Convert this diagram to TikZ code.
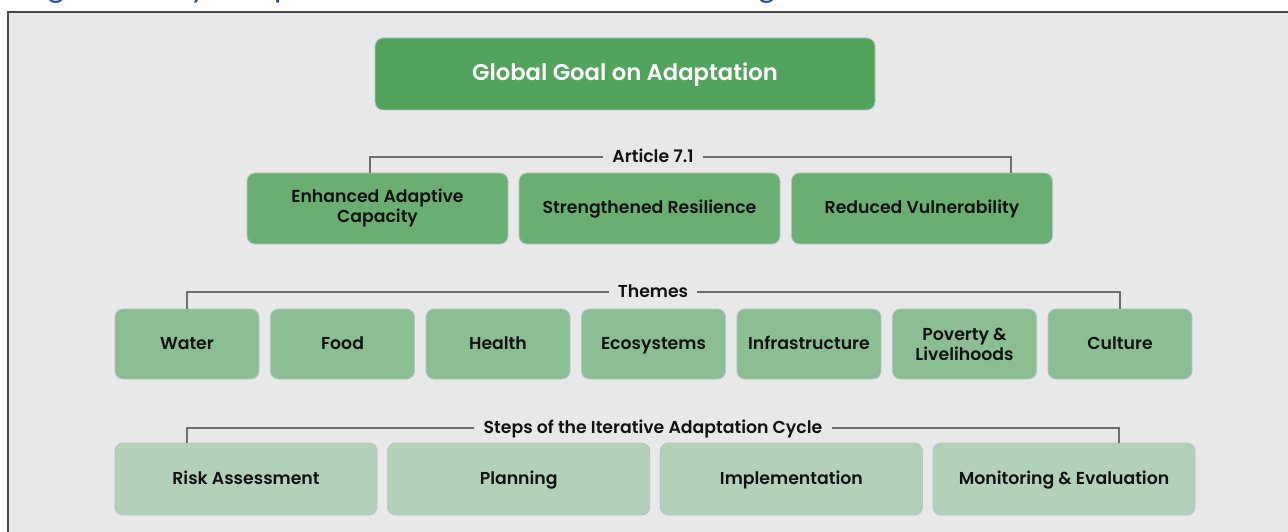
\documentclass[tikz,border=0pt]{standalone}
\usepackage{fontspec}
\setmainfont{Poppins}[BoldFont={Poppins SemiBold}]
\newfontfamily\capfont{Carlito}
\definecolor{framebg}{HTML}{E8E8E8}
\definecolor{frameline}{HTML}{4A4A4A}
\definecolor{capblue}{HTML}{2B4C9B}
\definecolor{goalgreen}{HTML}{52A35C}
\definecolor{artgreen}{HTML}{6AAE72}
\definecolor{themegreen}{HTML}{8BBE92}
\definecolor{stepgreen}{HTML}{B3D1B8}
\definecolor{boxedge}{HTML}{B4C2CF}
\definecolor{connline}{HTML}{6E6E6E}
\tikzset{
  box/.style={rounded corners=8pt, draw=boxedge, line width=0.9pt, align=center,
    inner sep=0pt, text=black!93, font=\fontsize{17.3}{20}\selectfont\bfseries},
  sl/.style={text height=12.2pt, text depth=1.5pt},
  goalbox/.style={box, fill=goalgreen, minimum width=500pt, minimum height=72pt,
    text=white, text height=16pt, text depth=3pt,
    font=\fontsize{22.7}{26}\selectfont\bfseries},
  artbox/.style={box, fill=artgreen, minimum width=261pt, minimum height=71pt},
  themebox/.style={box, fill=themegreen, minimum width=144pt, minimum height=70pt},
  stepbox/.style={box, fill=stepgreen, minimum width=262pt, minimum height=72pt},
  grouplabel/.style={fill=framebg, inner xsep=9pt, inner ysep=2pt, text=black!93,
    text height=12.2pt, text depth=1.5pt,
    font=\fontsize{17.3}{20}\selectfont\bfseries},
  conn/.style={draw=connline, line width=1.3pt}
}
\begin{document}
\begin{tikzpicture}[x=1pt,y=-1pt]
\useasboundingbox (0,0) rectangle (1288,532);

% caption above the frame and the grey frame itself
\begin{scope}
  \clip (0,0) rectangle (1288,532);
  \node[anchor=base west, inner sep=0pt, text=capblue,
        font=\capfont\fontsize{34.5}{40}\selectfont] (caption) at (24,-2)
        {Figure 1: Key components of the UAE Framework targets};
  \fill[framebg] (8,12) rectangle (1292,536);
  \draw[frameline, line width=1.5pt] (8,536) -- (8,12) -- (1292,12);
\end{scope}

% top goal
\node[goalbox] (goal) at (625,74) {Global Goal on Adaptation};

% Article 7.1 outcomes
\node[artbox] (e1) at (377.5,208.5) {Enhanced Adaptive\\Capacity};
\node[artbox, sl] (e2) at (649.5,208.5) {Strengthened Resilience};
\node[artbox, sl] (e3) at (922,208.5) {Reduced Vulnerability};

% themes
\node[themebox, sl] (t1) at (187,344) {Water};
\node[themebox, sl] (t2) at (342.5,344) {Food};
\node[themebox, sl] (t3) at (498,344) {Health};
\node[themebox, sl] (t4) at (653.5,344) {Ecosystems};
\node[themebox, sl] (t5) at (809,344) {Infrastructure};
\node[themebox] (t6) at (964.5,344) {Poverty \&\\Livelihoods};
\node[themebox, sl] (t7) at (1120,344) {Culture};

% steps of the adaptation cycle
\node[stepbox, sl] (s1) at (246,479) {Risk Assessment};
\node[stepbox, sl] (s2) at (518.7,479) {Planning};
\node[stepbox, sl] (s3) at (791.4,479) {Implementation};
\node[stepbox, sl] (s4) at (1064,479) {Monitoring \& Evaluation};

% group labels with their brackets
\node[grouplabel] (art) at (653,157) {Article 7.1};
\draw[conn] (art.west) -| ([xshift=-7.5pt]e1.north);
\draw[conn] (art.east) -| ([xshift=89pt]e3.north);

\node[grouplabel] (themes) at (653,292) {Themes};
\draw[conn] (themes.west) -| (t1.north);
\draw[conn] (themes.east) -| (t7.north);

\node[grouplabel] (steps) at (653,428) {Steps of the Iterative Adaptation Cycle};
\draw[conn] (steps.west) -| ([xshift=-59pt]s1.north);
\draw[conn] (steps.east) -| ([xshift=55pt]s4.north);
\end{tikzpicture}
\end{document}
